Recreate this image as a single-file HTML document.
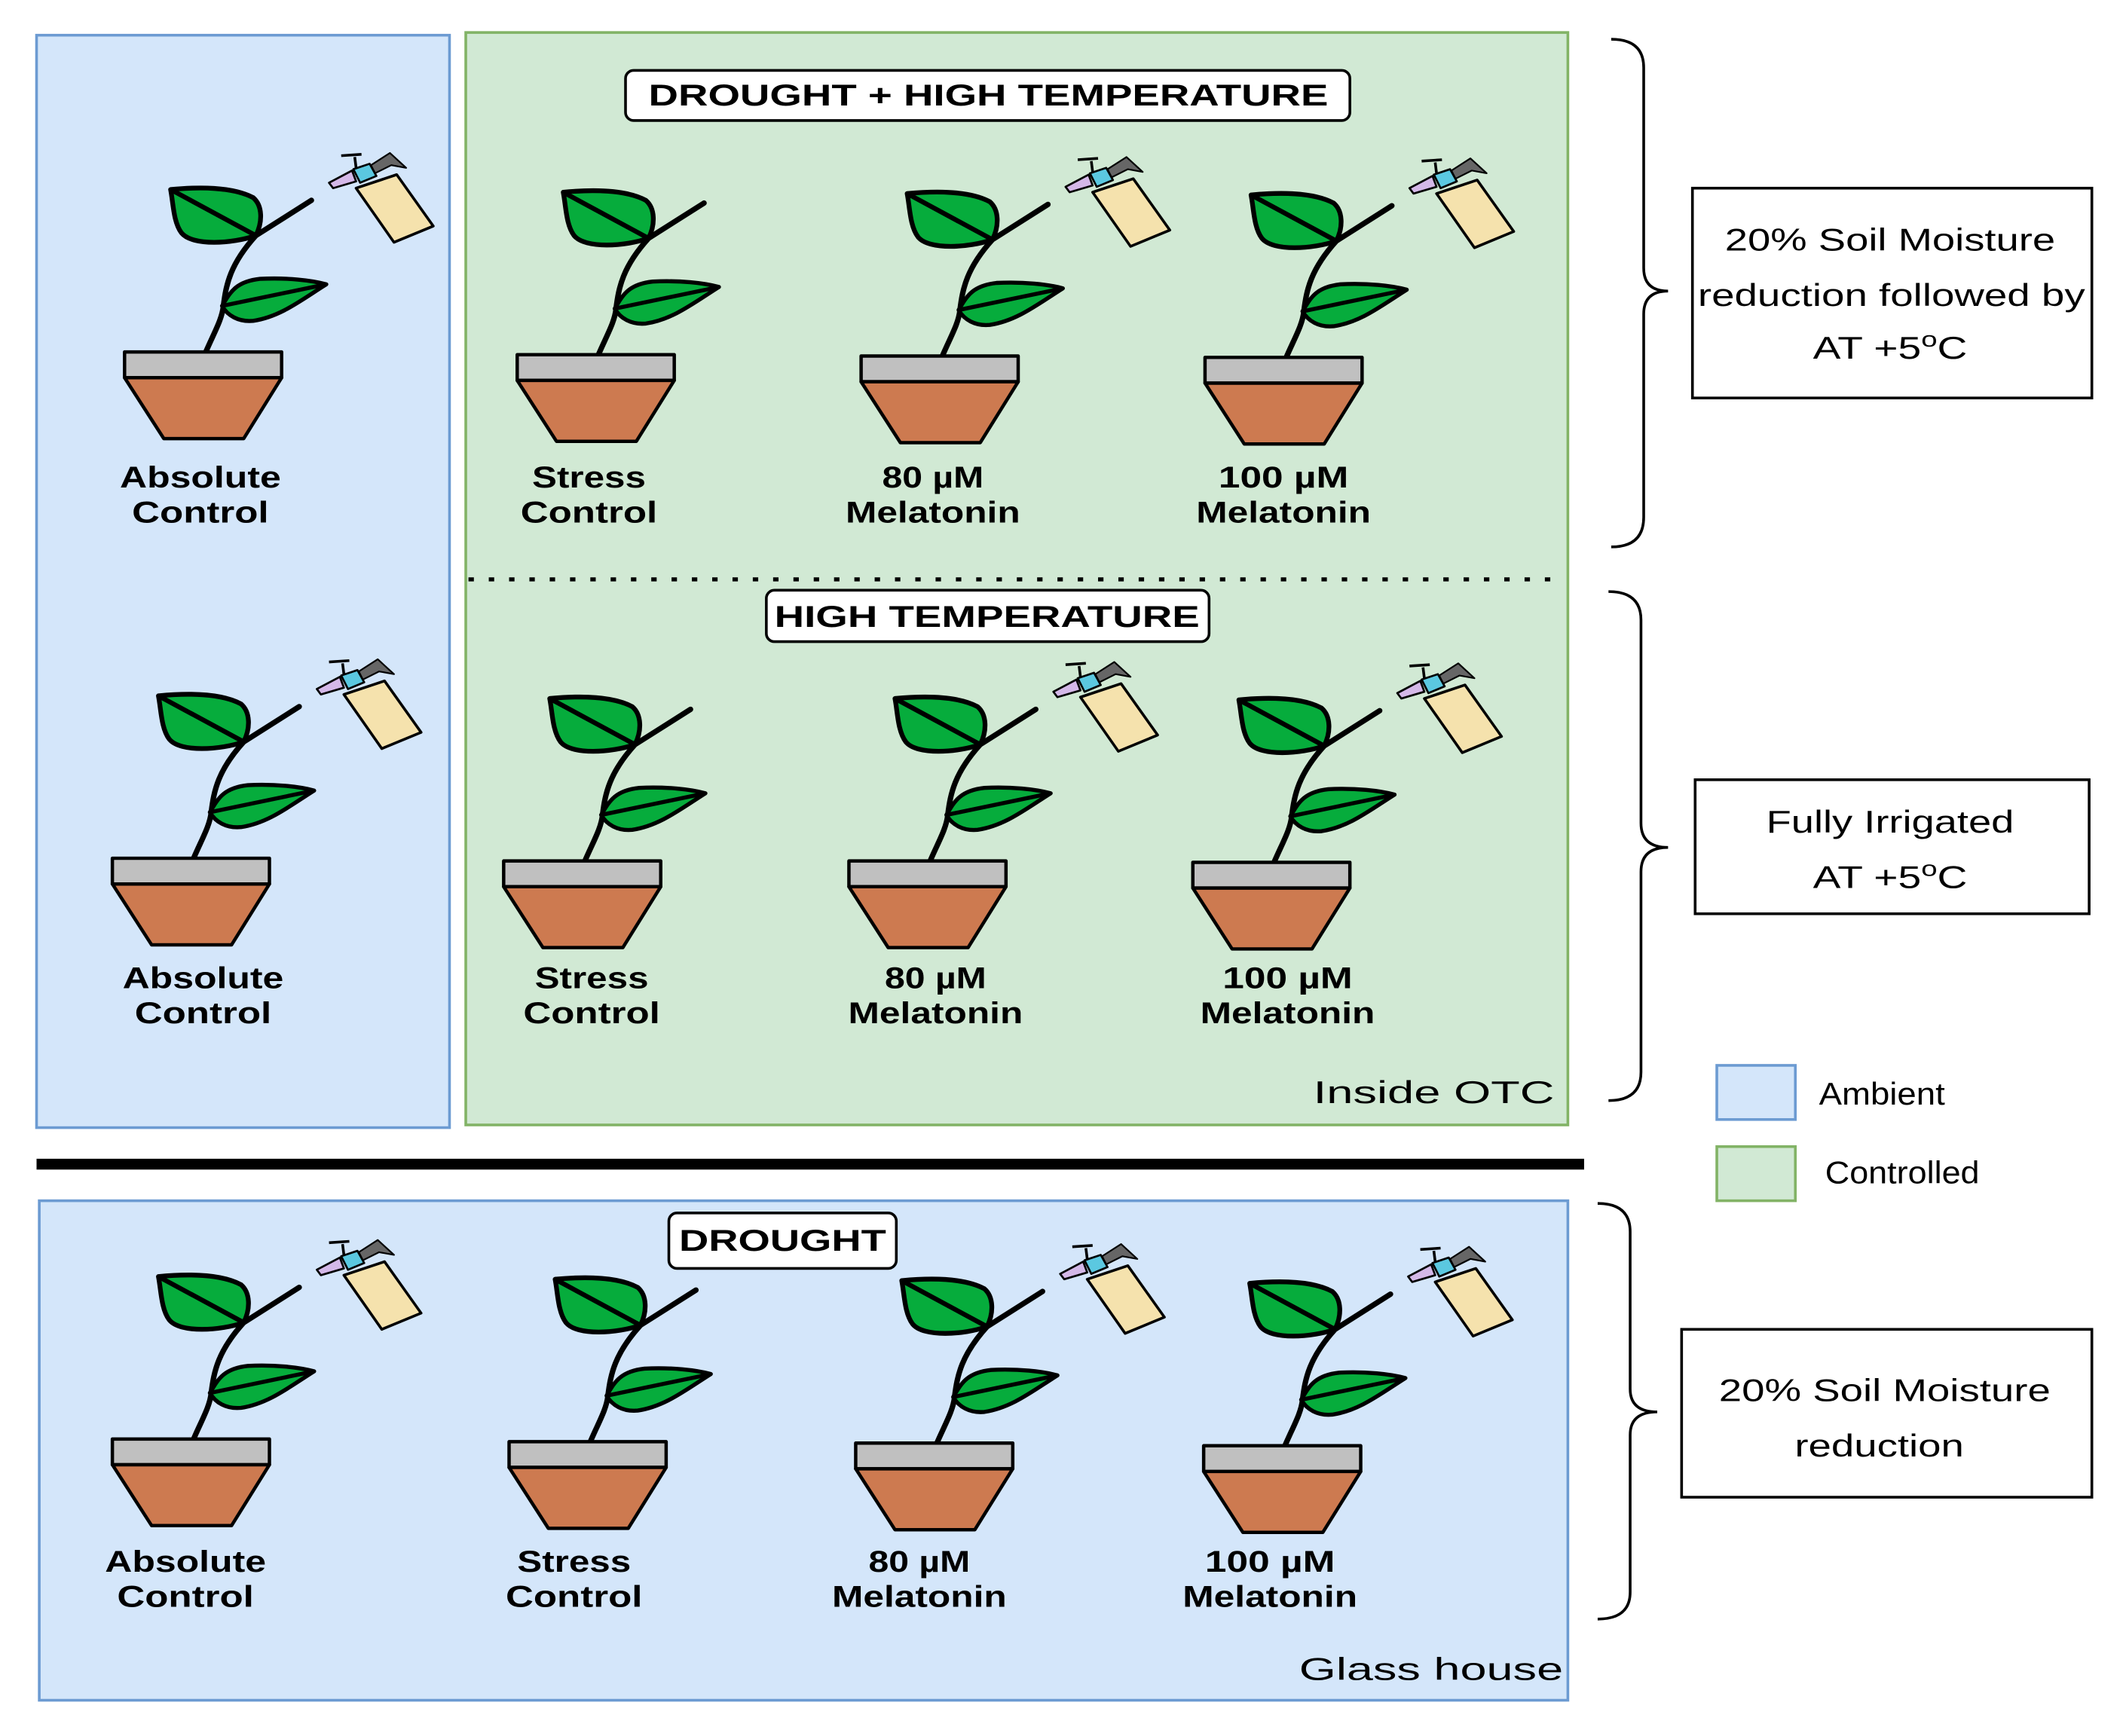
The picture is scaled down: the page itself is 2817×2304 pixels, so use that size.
<!DOCTYPE html>
<html><head><meta charset="utf-8"><style>
html,body{margin:0;padding:0;background:#fff}
svg{display:block}
.b{font-family:"Liberation Sans",Arial,sans-serif;font-weight:bold;font-size:22px;text-anchor:middle;fill:#000}
.n{font-family:"Liberation Sans",Arial,sans-serif;font-size:23px;text-anchor:middle;fill:#000}
</style></head><body>
<svg width="2817" height="2304" viewBox="0 0 1568 1282.4" preserveAspectRatio="none" xmlns="http://www.w3.org/2000/svg">
<defs>
<g id="p" stroke="#000" stroke-linejoin="round">
  <path d="M60,0 C66,-14 72,-24 73,-34 C75,-50 78,-65 97,-86 L138,-112" fill="none" stroke-width="4" stroke-linecap="round"/>
  <path d="M97,-86 C80,-80 50,-78 42,-88 C36,-96 36,-110 34,-120 C55,-122 80,-122 95,-114 C102,-108 102,-96 97,-86 Z" fill="#06ac3c" stroke-width="3.5"/>
  <path d="M34,-120 L97,-86" stroke-width="3.5"/>
  <path d="M72,-34 C78,-44 82,-52 100,-54 C120,-55 138,-53 149,-50 C130,-38 115,-26 95,-23 C84,-22 76,-27 72,-34 Z" fill="#06ac3c" stroke-width="3"/>
  <path d="M72,-34 L149,-50" stroke-width="3"/>
  <rect x="0" y="0" width="116" height="19" fill="#c0c0c0" stroke-width="2.5"/>
  <polygon points="0,19 116,19 88,64 29,64" fill="#cd7a50" stroke-width="2.5"/>
</g>
<g id="s" stroke="#000" stroke-linejoin="round">
  <polygon points="171,-121 201,-131 228,-93 199,-81" fill="#f5e2ad" stroke-width="2"/>
  <polygon points="182,-138 196,-147 208,-136 197,-138 185,-132" fill="#666" stroke-width="1.2"/>
  <path d="M170,-144 L171,-136 M160,-145 L175,-146" stroke-width="2"/>
  <polygon points="151,-125 168,-134 171,-126 154,-121" fill="#d4b8e8" stroke-width="1.5"/>
  <polygon points="169,-135 181,-139 186,-130 174,-125" fill="#5bc8e0" stroke-width="1.5"/>
</g>
</defs>
<rect x="27" y="26" width="305" height="807" fill="#d4e6fa" stroke="#6c9bd2" stroke-width="2"/>
<rect x="344" y="24" width="814" height="807" fill="#d1e9d4" stroke="#82b366" stroke-width="2"/>
<rect x="29" y="887" width="1129" height="369" fill="#d4e6fa" stroke="#6c9bd2" stroke-width="2"/>
<line x1="346" y1="428" x2="1150" y2="428" stroke="#000" stroke-width="3" stroke-dasharray="4,11"/>
<line x1="27" y1="860" x2="1170" y2="860" stroke="#000" stroke-width="8"/>

<rect x="462" y="52" width="535" height="37" rx="6" fill="#fff" stroke="#000" stroke-width="2"/>
<text class="b" x="730" y="78" font-size="23" textLength="502" lengthAdjust="spacingAndGlyphs">DROUGHT + HIGH TEMPERATURE</text>
<rect x="566" y="436" width="327" height="38" rx="6" fill="#fff" stroke="#000" stroke-width="2"/>
<text class="b" x="729" y="463" font-size="23" textLength="314" lengthAdjust="spacingAndGlyphs">HIGH TEMPERATURE</text>
<rect x="494" y="896" width="168" height="41" rx="6" fill="#fff" stroke="#000" stroke-width="2"/>
<text class="b" x="578" y="924" font-size="23" textLength="153" lengthAdjust="spacingAndGlyphs">DROUGHT</text>

<use href="#p" x="92" y="260"/><use href="#s" x="92" y="260"/>
<use href="#p" x="382" y="262"/>
<use href="#p" x="636" y="263"/><use href="#s" x="636" y="263"/>
<use href="#p" x="890" y="264"/><use href="#s" x="890" y="264"/>
<use href="#p" x="83" y="634"/><use href="#s" x="83" y="634"/>
<use href="#p" x="372" y="636"/>
<use href="#p" x="627" y="636"/><use href="#s" x="627" y="636"/>
<use href="#p" x="881" y="637"/><use href="#s" x="881" y="637"/>
<use href="#p" x="83" y="1063"/><use href="#s" x="83" y="1063"/>
<use href="#p" x="376" y="1065"/>
<use href="#p" x="632" y="1066"/><use href="#s" x="632" y="1066"/>
<use href="#p" x="889" y="1068"/><use href="#s" x="889" y="1068"/>

<g class="b" lengthAdjust="spacingAndGlyphs">
<text x="148" y="360" textLength="119" lengthAdjust="spacingAndGlyphs">Absolute</text><text x="148" y="386" textLength="101" lengthAdjust="spacingAndGlyphs">Control</text>
<text x="435" y="360" textLength="84" lengthAdjust="spacingAndGlyphs">Stress</text><text x="435" y="386" textLength="101" lengthAdjust="spacingAndGlyphs">Control</text>
<text x="689" y="360" textLength="75" lengthAdjust="spacingAndGlyphs">80 µM</text><text x="689" y="386" textLength="129" lengthAdjust="spacingAndGlyphs">Melatonin</text>
<text x="948" y="360" textLength="96" lengthAdjust="spacingAndGlyphs">100 µM</text><text x="948" y="386" textLength="129" lengthAdjust="spacingAndGlyphs">Melatonin</text>
<text x="150" y="730" textLength="119" lengthAdjust="spacingAndGlyphs">Absolute</text><text x="150" y="756" textLength="101" lengthAdjust="spacingAndGlyphs">Control</text>
<text x="437" y="730" textLength="84" lengthAdjust="spacingAndGlyphs">Stress</text><text x="437" y="756" textLength="101" lengthAdjust="spacingAndGlyphs">Control</text>
<text x="691" y="730" textLength="75" lengthAdjust="spacingAndGlyphs">80 µM</text><text x="691" y="756" textLength="129" lengthAdjust="spacingAndGlyphs">Melatonin</text>
<text x="951" y="730" textLength="96" lengthAdjust="spacingAndGlyphs">100 µM</text><text x="951" y="756" textLength="129" lengthAdjust="spacingAndGlyphs">Melatonin</text>
<text x="137" y="1161" textLength="119" lengthAdjust="spacingAndGlyphs">Absolute</text><text x="137" y="1187" textLength="101" lengthAdjust="spacingAndGlyphs">Control</text>
<text x="424" y="1161" textLength="84" lengthAdjust="spacingAndGlyphs">Stress</text><text x="424" y="1187" textLength="101" lengthAdjust="spacingAndGlyphs">Control</text>
<text x="679" y="1161" textLength="75" lengthAdjust="spacingAndGlyphs">80 µM</text><text x="679" y="1187" textLength="129" lengthAdjust="spacingAndGlyphs">Melatonin</text>
<text x="938" y="1161" textLength="96" lengthAdjust="spacingAndGlyphs">100 µM</text><text x="938" y="1187" textLength="129" lengthAdjust="spacingAndGlyphs">Melatonin</text>
</g>
<text class="n" x="1059" y="815" font-size="27" textLength="178" lengthAdjust="spacingAndGlyphs">Inside OTC</text>
<text class="n" x="1057" y="1241" font-size="27" textLength="195" lengthAdjust="spacingAndGlyphs">Glass house</text>

<g fill="none" stroke="#000" stroke-width="2">
<path d="M1190,29 Q1214,29 1214,50 L1214,198 Q1214,215 1232,215 M1232,215 Q1214,215 1214,232 L1214,382 Q1214,404 1190,404"/>
<path d="M1188,437 Q1212,437 1212,458 L1212,608 Q1212,626 1232,626 M1232,626 Q1212,626 1212,644 L1212,792 Q1212,813 1188,813"/>
<path d="M1180,889 Q1204,889 1204,910 L1204,1026 Q1204,1043 1224,1043 M1224,1043 Q1204,1043 1204,1060 L1204,1176 Q1204,1196 1180,1196"/>
</g>
<rect x="1250" y="139" width="295" height="155" fill="#fff" stroke="#000" stroke-width="2"/>
<text class="n" x="1396" y="185" textLength="244" lengthAdjust="spacingAndGlyphs">20% Soil Moisture</text>
<text class="n" x="1397" y="226" textLength="286" lengthAdjust="spacingAndGlyphs">reduction followed by</text>
<text class="n" x="1396" y="265" textLength="114" lengthAdjust="spacingAndGlyphs">AT +5<tspan dy="-9" font-size="16">o</tspan><tspan dy="9">C</tspan></text>
<rect x="1252" y="576" width="291" height="99" fill="#fff" stroke="#000" stroke-width="2"/>
<text class="n" x="1396" y="615" textLength="183" lengthAdjust="spacingAndGlyphs">Fully Irrigated</text>
<text class="n" x="1396" y="656" textLength="114" lengthAdjust="spacingAndGlyphs">AT +5<tspan dy="-9" font-size="16">o</tspan><tspan dy="9">C</tspan></text>
<rect x="1242" y="982" width="303" height="124" fill="#fff" stroke="#000" stroke-width="2"/>
<text class="n" x="1392" y="1035" textLength="245" lengthAdjust="spacingAndGlyphs">20% Soil Moisture</text>
<text class="n" x="1388" y="1076" textLength="125" lengthAdjust="spacingAndGlyphs">reduction</text>

<rect x="1268" y="787" width="58" height="40" fill="#d4e6fa" stroke="#6c9bd2" stroke-width="2"/>
<text class="n" x="1390" y="816" font-size="19" textLength="93" lengthAdjust="spacingAndGlyphs">Ambient</text>
<rect x="1268" y="847" width="58" height="40" fill="#d1e9d4" stroke="#82b366" stroke-width="2"/>
<text class="n" x="1405" y="874" font-size="19" textLength="114" lengthAdjust="spacingAndGlyphs">Controlled</text>
</svg>
</body></html>
